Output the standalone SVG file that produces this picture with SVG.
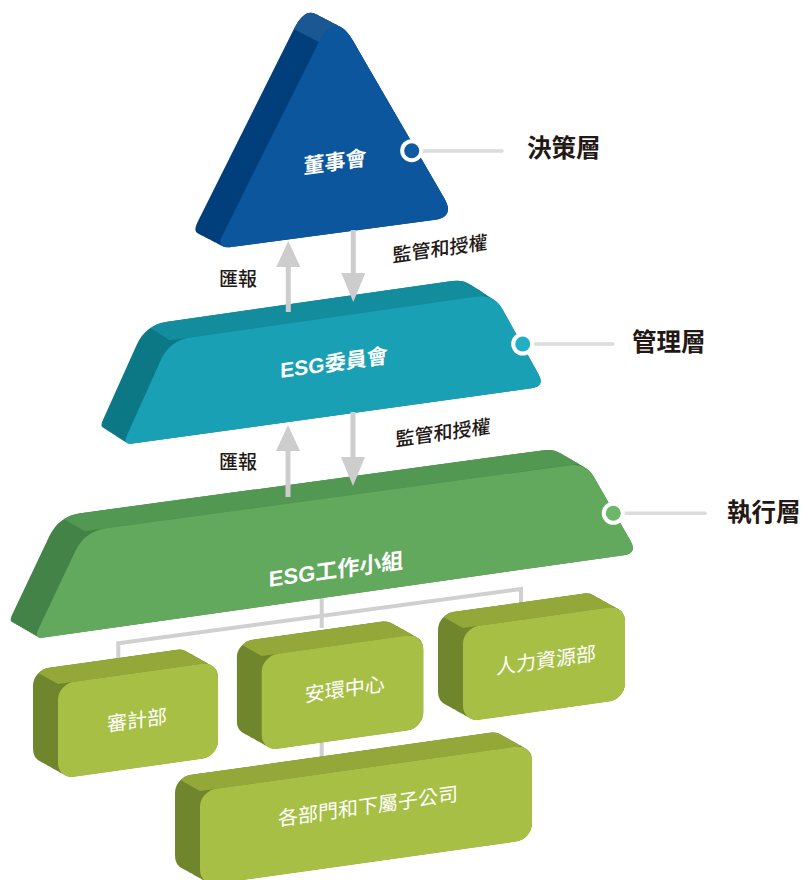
<svg xmlns="http://www.w3.org/2000/svg" width="801" height="880" viewBox="0 0 801 880">
<style>
.cjk{font-family:"Liberation Sans","Noto Sans CJK TC",sans-serif}
.nodeT{fill:#fff;font-weight:700;font-size:21px;text-anchor:middle;dominant-baseline:central}
.boxT{fill:#fff;font-weight:400;font-size:20px;text-anchor:middle;dominant-baseline:central}
.lvl{fill:#231815;font-weight:700;font-size:24.5px;dominant-baseline:central}
.arrT{fill:#231815;font-weight:500;font-size:19px;text-anchor:middle;dominant-baseline:central}
.tree{fill:none;stroke:#d0d0d0;stroke-width:4}
.shaft{stroke:#cdcdcd;stroke-width:5}
.head{fill:#cdcdcd}
.lead{stroke:#dcdcdc;stroke-width:3.5;stroke-linecap:round}
.oSide{fill:#70862d}
.oTop{fill:#94a83a}
.oFront{fill:#a8bf45}
</style>
<defs>
<path id="p-board" d="M353.1,41 L444.3,198.2 Q455.3,217.2 433.5,220.1 L231.3,247.1 Q215.4,249.2 222.6,234.9 L318.9,42.1 Q335,9.9 353.1,41 Z"/>
<path id="p-com" d="M191.4,337.2 L476.2,296.5 Q494,294 502.7,309.7 L538.5,374.2 Q545.3,386.4 531.4,388.3 L132.5,443.6 Q122.6,445 126.7,435.9 L160.6,360.4 Q169.6,340.3 191.4,337.2 Z"/>
<path id="p-wg" d="M106.6,528.2 L570.1,465.2 Q586,463 593.9,476.9 L630.6,541 Q637.5,553.2 623.6,555.2 L43.6,637.6 Q33.7,639 38,630 L75.4,551.1 Q84.8,531.2 106.6,528.2 Z"/>
<rect id="r-audit" width="160" height="95" rx="16"/>
<rect id="r-safety" width="161.6" height="95" rx="16"/>
<rect id="r-hr" width="162" height="94" rx="16"/>
<rect id="r-dept" width="332" height="95" rx="16"/>
<clipPath id="sw-board"><use href="#p-board"/><use href="#p-board" x="-2.08" y="-1.08"/><use href="#p-board" x="-4.17" y="-2.17"/><use href="#p-board" x="-6.25" y="-3.25"/><use href="#p-board" x="-8.33" y="-4.33"/><use href="#p-board" x="-10.42" y="-5.42"/><use href="#p-board" x="-12.5" y="-6.5"/><use href="#p-board" x="-14.58" y="-7.58"/><use href="#p-board" x="-16.67" y="-8.67"/><use href="#p-board" x="-18.75" y="-9.75"/><use href="#p-board" x="-20.83" y="-10.83"/><use href="#p-board" x="-22.92" y="-11.92"/><use href="#p-board" x="-25" y="-13"/></clipPath>
<clipPath id="sw-com"><use href="#p-com"/><use href="#p-com" x="-2" y="-1.29"/><use href="#p-com" x="-4" y="-2.58"/><use href="#p-com" x="-6" y="-3.88"/><use href="#p-com" x="-8" y="-5.17"/><use href="#p-com" x="-10" y="-6.46"/><use href="#p-com" x="-12" y="-7.75"/><use href="#p-com" x="-14" y="-9.04"/><use href="#p-com" x="-16" y="-10.33"/><use href="#p-com" x="-18" y="-11.63"/><use href="#p-com" x="-20" y="-12.92"/><use href="#p-com" x="-22" y="-14.21"/><use href="#p-com" x="-24" y="-15.5"/></clipPath>
<clipPath id="sw-wg"><use href="#p-wg"/><use href="#p-wg" x="-2.17" y="-1.25"/><use href="#p-wg" x="-4.33" y="-2.5"/><use href="#p-wg" x="-6.5" y="-3.75"/><use href="#p-wg" x="-8.67" y="-5"/><use href="#p-wg" x="-10.83" y="-6.25"/><use href="#p-wg" x="-13" y="-7.5"/><use href="#p-wg" x="-15.17" y="-8.75"/><use href="#p-wg" x="-17.33" y="-10"/><use href="#p-wg" x="-19.5" y="-11.25"/><use href="#p-wg" x="-21.67" y="-12.5"/><use href="#p-wg" x="-23.83" y="-13.75"/><use href="#p-wg" x="-26" y="-15"/></clipPath>
<clipPath id="sw-audit"><use href="#r-audit"/><use href="#r-audit" x="-2.08" y="-1.46"/><use href="#r-audit" x="-4.17" y="-2.92"/><use href="#r-audit" x="-6.25" y="-4.38"/><use href="#r-audit" x="-8.33" y="-5.83"/><use href="#r-audit" x="-10.42" y="-7.29"/><use href="#r-audit" x="-12.5" y="-8.75"/><use href="#r-audit" x="-14.58" y="-10.21"/><use href="#r-audit" x="-16.67" y="-11.67"/><use href="#r-audit" x="-18.75" y="-13.13"/><use href="#r-audit" x="-20.83" y="-14.58"/><use href="#r-audit" x="-22.92" y="-16.04"/><use href="#r-audit" x="-25" y="-17.5"/></clipPath>
<clipPath id="sw-safety"><use href="#r-safety"/><use href="#r-safety" x="-2.08" y="-1.46"/><use href="#r-safety" x="-4.17" y="-2.92"/><use href="#r-safety" x="-6.25" y="-4.38"/><use href="#r-safety" x="-8.33" y="-5.83"/><use href="#r-safety" x="-10.42" y="-7.29"/><use href="#r-safety" x="-12.5" y="-8.75"/><use href="#r-safety" x="-14.58" y="-10.21"/><use href="#r-safety" x="-16.67" y="-11.67"/><use href="#r-safety" x="-18.75" y="-13.13"/><use href="#r-safety" x="-20.83" y="-14.58"/><use href="#r-safety" x="-22.92" y="-16.04"/><use href="#r-safety" x="-25" y="-17.5"/></clipPath>
<clipPath id="sw-hr"><use href="#r-hr"/><use href="#r-hr" x="-2.08" y="-1.46"/><use href="#r-hr" x="-4.17" y="-2.92"/><use href="#r-hr" x="-6.25" y="-4.38"/><use href="#r-hr" x="-8.33" y="-5.83"/><use href="#r-hr" x="-10.42" y="-7.29"/><use href="#r-hr" x="-12.5" y="-8.75"/><use href="#r-hr" x="-14.58" y="-10.21"/><use href="#r-hr" x="-16.67" y="-11.67"/><use href="#r-hr" x="-18.75" y="-13.13"/><use href="#r-hr" x="-20.83" y="-14.58"/><use href="#r-hr" x="-22.92" y="-16.04"/><use href="#r-hr" x="-25" y="-17.5"/></clipPath>
<clipPath id="sw-dept"><use href="#r-dept"/><use href="#r-dept" x="-2.08" y="-1.46"/><use href="#r-dept" x="-4.17" y="-2.92"/><use href="#r-dept" x="-6.25" y="-4.38"/><use href="#r-dept" x="-8.33" y="-5.83"/><use href="#r-dept" x="-10.42" y="-7.29"/><use href="#r-dept" x="-12.5" y="-8.75"/><use href="#r-dept" x="-14.58" y="-10.21"/><use href="#r-dept" x="-16.67" y="-11.67"/><use href="#r-dept" x="-18.75" y="-13.13"/><use href="#r-dept" x="-20.83" y="-14.58"/><use href="#r-dept" x="-22.92" y="-16.04"/><use href="#r-dept" x="-25" y="-17.5"/></clipPath>
</defs>
<rect width="801" height="880" fill="#fff"/>

<g id="tree-lines">
<path class="tree" d="M321.7,596 V628"/>
<path class="tree" d="M118.3,662 V643.3 L521,589.1 V604"/>
<path class="tree" d="M321.7,738 V762"/>
</g>

<g id="node-board">
<rect x="150" y="-30" width="350" height="300" fill="#003f7b" clip-path="url(#sw-board)"/>
<polygon points="243.9,3.1 318.9,42.1 420,60 420,-30 243.9,-30" fill="#1b5793" clip-path="url(#sw-board)"/>
<use href="#p-board" fill="#0b569c"/>
<text class="cjk nodeT" transform="translate(335,162) skewY(-8)">董事會</text>
</g>

<g id="node-committee">
<rect x="60" y="250" width="520" height="220" fill="#0c7886" clip-path="url(#sw-com)"/>
<polygon points="97.6,293.8 169.6,340.3 565.6,283.8 565.6,200 97.6,200" fill="#138d9e" clip-path="url(#sw-com)"/>
<use href="#p-com" fill="#19a0b5"/>
<text class="cjk nodeT" transform="translate(334,363) skewY(-8)">ESG委員會</text>
</g>

<g id="node-workgroup">
<rect x="0" y="430" width="660" height="230" fill="#448347" clip-path="url(#sw-wg)"/>
<polygon points="6.8,486.2 84.8,531.2 679.3,450.3 679.3,380 6.8,380" fill="#529752" clip-path="url(#sw-wg)"/>
<use href="#p-wg" fill="#62a95e"/>
<text class="cjk nodeT" transform="translate(336,570) skewY(-8)" style="font-size:22px">ESG工作小組</text>
</g>

<g id="node-audit" transform="translate(58,684) skewY(-8)">
<rect class="oSide" x="-60" y="-60" width="280" height="200" clip-path="url(#sw-audit)"/>
<polygon class="oTop" points="-75,-52.5 0,0 240,0 240,-100 -75,-100" clip-path="url(#sw-audit)"/>
<use href="#r-audit" class="oFront"/>
<text class="cjk boxT" x="79" y="47.5">審計部</text>
</g>

<g id="node-safety" transform="translate(261.7,656) skewY(-8)">
<rect class="oSide" x="-60" y="-60" width="280" height="200" clip-path="url(#sw-safety)"/>
<polygon class="oTop" points="-75,-52.5 0,0 242,0 242,-100 -75,-100" clip-path="url(#sw-safety)"/>
<use href="#r-safety" class="oFront"/>
<text class="cjk boxT" x="83" y="45">安環中心</text>
</g>

<g id="node-hr" transform="translate(463,628) skewY(-8)">
<rect class="oSide" x="-60" y="-60" width="280" height="200" clip-path="url(#sw-hr)"/>
<polygon class="oTop" points="-75,-52.5 0,0 242,0 242,-100 -75,-100" clip-path="url(#sw-hr)"/>
<use href="#r-hr" class="oFront"/>
<text class="cjk boxT" x="83" y="44">人力資源部</text>
</g>

<g id="node-dept" transform="translate(200,791) skewY(-8)">
<rect class="oSide" x="-60" y="-60" width="450" height="200" clip-path="url(#sw-dept)"/>
<polygon class="oTop" points="-75,-52.5 0,0 412,0 412,-100 -75,-100" clip-path="url(#sw-dept)"/>
<use href="#r-dept" class="oFront"/>
<text class="cjk boxT" x="168" y="39">各部門和下屬子公司</text>
</g>

<g id="connectors">
<line class="shaft" x1="288.3" y1="312" x2="288.3" y2="262"/>
<polygon class="head" points="288.3,241 276.3,267 300.3,267"/>
<line class="shaft" x1="353.3" y1="230" x2="353.3" y2="278"/>
<polygon class="head" points="341.3,273 365.3,273 353.3,302"/>
<line class="shaft" x1="288" y1="497" x2="288" y2="447"/>
<polygon class="head" points="288,425 276,451 300,451"/>
<line class="shaft" x1="353" y1="412" x2="353" y2="462"/>
<polygon class="head" points="341,457 365,457 353,486"/>
</g>

<g id="edge-labels">
<text class="cjk arrT" x="238" y="279">匯報</text>
<text class="cjk arrT" transform="translate(440,249) skewY(-8)">監管和授權</text>
<text class="cjk arrT" x="238" y="462">匯報</text>
<text class="cjk arrT" transform="translate(443,433) skewY(-8)">監管和授權</text>
</g>

<g id="level-decision">
<line class="lead" x1="412" y1="151" x2="502" y2="151"/>
<circle cx="411.7" cy="150.7" r="11.5" fill="#fff"/>
<circle cx="411.7" cy="150.7" r="7.5" fill="#0d5ca3"/>
<text class="cjk lvl" x="527" y="148">決策層</text>
</g>
<g id="level-management">
<line class="lead" x1="523" y1="344" x2="613" y2="344"/>
<circle cx="522.7" cy="344" r="11.5" fill="#fff"/>
<circle cx="522.7" cy="344" r="7.5" fill="#22aec5"/>
<text class="cjk lvl" x="632" y="342">管理層</text>
</g>
<g id="level-execution">
<line class="lead" x1="614" y1="513.3" x2="705" y2="513.3"/>
<circle cx="613.3" cy="513.3" r="11.5" fill="#fff"/>
<circle cx="613.3" cy="513.3" r="7.5" fill="#6cb86a"/>
<text class="cjk lvl" x="727" y="512.5">執行層</text>
</g>
</svg>
